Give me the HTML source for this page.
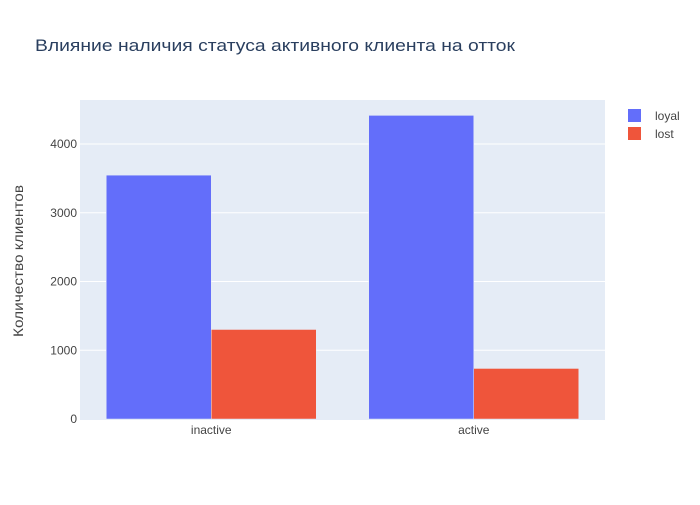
<!DOCTYPE html>
<html><head><meta charset="utf-8"><style>
body{margin:0;background:#fff;}
svg text{font-family:"Liberation Sans","DejaVu Sans",sans-serif;fill:#444;}
</style></head><body>
<svg id="chart" width="700" height="500">
<rect x="0" y="0" width="700" height="500" fill="#fff"/>
<text x="35" y="51" textLength="480" lengthAdjust="spacingAndGlyphs" style="font-size:17px;fill:#2a3f5f">Влияние наличия статуса активного клиента на отток</text>
<rect x="80" y="100" width="525" height="320" fill="#e5ecf6"/>
<g id="grid"></g><g id="bars"></g><g id="axes"></g>
<text transform="translate(23,261) rotate(-90)" text-anchor="middle" textLength="152" lengthAdjust="spacingAndGlyphs" style="font-size:14px;fill:#444">Количество клиентов</text>
<g><rect x="628" y="109" width="13" height="13" fill="#636efa"/><text x="655" y="120" style="font-size:12px;fill:#444">loyal</text></g>
<g><rect x="628" y="127" width="13" height="13" fill="#ef553b"/><text x="655" y="138" style="font-size:12px;fill:#444">lost</text></g>
</svg>
<script>
const categories=["inactive","active"];
const loyal=[3547,4416];
const lost=[1302,735];
const yTicks=[0,1000,2000,3000,4000];
const series=[{name:"loyal",values:loyal,color:"#636efa"},{name:"lost",values:lost,color:"#ef553b"}];
const ns="http://www.w3.org/2000/svg";
const X0=80,W=525,Y0=419,PX_PER=0.06875;
const y=v=>Y0-v*PX_PER;
const band=W/categories.length;
const xC=i=>X0+band*(i+0.5);
function mk(t,a,p){const e=document.createElementNS(ns,t);for(const k in a)e.setAttribute(k,a[k]);p.appendChild(e);return e;}
const grid=document.getElementById('grid'),bars=document.getElementById('bars'),axes=document.getElementById('axes');
yTicks.forEach(t=>{
 if(t>0){const l=mk('line',{x1:X0,x2:X0+W,y1:y(t),y2:y(t),stroke:'#fff','stroke-width':1},grid);
 
 }
 const tx=mk('text',{x:X0-3,y:y(t)+4,'text-anchor':'end','font-size':12},axes);tx.textContent=t;
 
 
});
const bw=band*0.8/series.length;
categories.forEach((c,i)=>{
 series.forEach((s,j)=>{
  const x=xC(i)-band*0.4+j*bw;
  const r=mk('rect',{x:x,y:y(s.values[i]),width:bw,height:Y0-y(s.values[i]),fill:s.color,stroke:'#e5ecf6','stroke-width':0.5},bars);
  
  
 });
 const tx=mk('text',{x:xC(i),y:Y0+15,'text-anchor':'middle','font-size':12},axes);tx.textContent=c;
 
 
});
</script>
</body></html>
